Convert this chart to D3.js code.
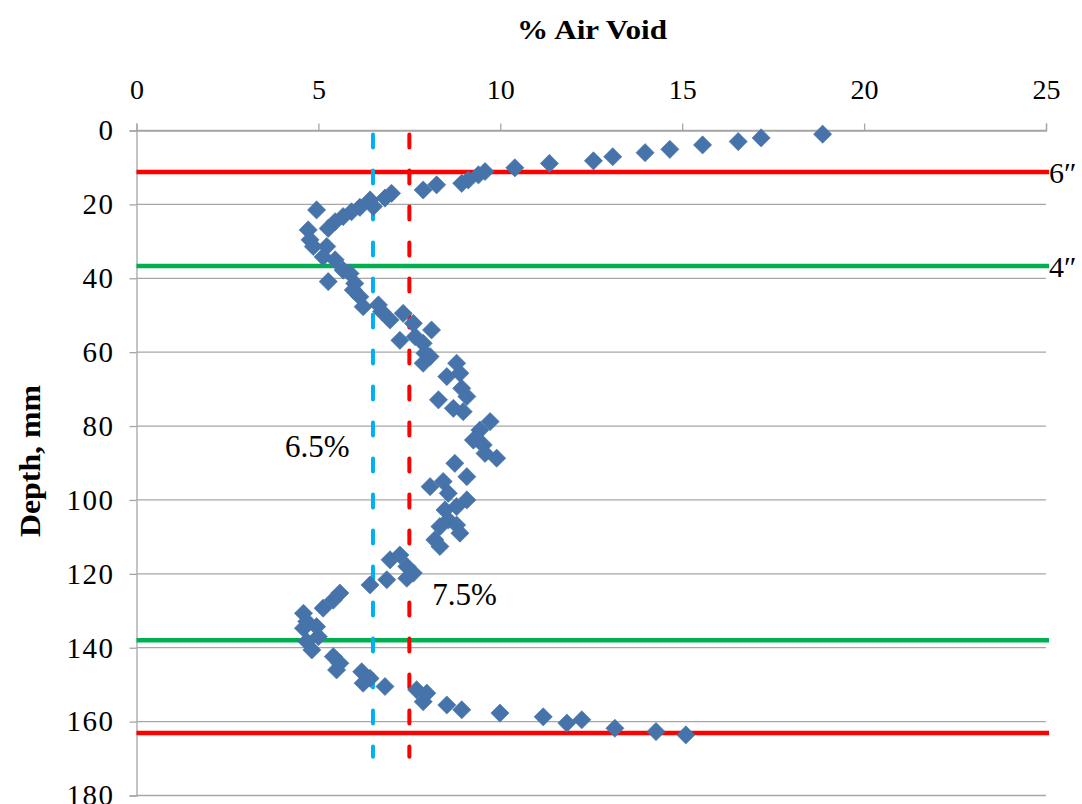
<!DOCTYPE html>
<html>
<head>
<meta charset="utf-8">
<script src="https://cdn.jsdelivr.net/npm/d3@7"></script>
<style>
  body { margin: 0; background: #fff; }
  svg text { font-family: "Liberation Serif", "Times New Roman", serif; }
</style>
</head>
<body>
<div id="chart"></div>
<script>
const depth = [1.0, 2.0, 3.0, 3.9, 5.1, 6.0, 7.1, 8.2, 8.9, 10.1, 11.1, 12.0, 13.4, 14.3, 14.7, 16.1, 17.0, 18.3, 18.8,
  20.6, 20.8, 21.5, 22.0, 23.3, 24.7, 26.5, 26.9, 29.6, 31.4, 31.4, 34.2, 35.0, 37.8, 38.7, 40.9, 41.4, 43.2, 45.0,
  47.2, 47.7, 49.0, 49.5, 51.3, 52.2, 54.0, 55.8, 56.8, 57.6, 60.3, 61.2, 63.0, 63.0, 65.7, 66.6, 69.8, 72.0, 72.9,
  75.2, 76.1, 78.8, 81.1, 83.8, 85.1, 87.4, 88.7, 90.1, 93.7, 95.0, 96.4, 98.2, 100.0, 101.8, 102.7, 105.4, 106.8,
  107.2, 109.0, 110.8, 112.6, 114.9, 116.2, 118.0, 119.8, 121.2, 121.6, 123.0, 125.2, 127.1, 129.3, 130.7, 132.9,
  134.3, 134.7, 137.0, 138.3, 140.6, 142.4, 144.2, 146.0, 146.5, 148.3, 149.6, 150.5, 151.4, 152.3, 154.6, 155.5,
  156.8, 157.7, 158.7, 159.5, 160.4, 161.8, 162.7, 163.6];
const airVoid = [18.86, 17.17, 16.54, 15.56, 14.66, 13.98, 13.09, 12.56, 11.35, 10.4, 9.58, 9.4, 9.12, 8.94, 8.25, 7.88, 7.01, 6.83, 6.42,
  6.51, 6.14, 4.95, 5.91, 5.68, 5.46, 5.27, 4.72, 4.77, 4.86, 5.23, 5.13, 5.46, 5.68, 5.87, 5.27, 6.0, 5.96, 6.14,
  6.65, 6.23, 6.74, 7.33, 6.97, 7.61, 8.11, 7.66, 7.24, 7.88, 7.93, 8.07, 7.88, 8.8, 8.89, 8.53, 8.94, 9.08, 8.3,
  8.71, 8.98, 9.72, 9.44, 9.26, 9.53, 9.58, 9.9, 8.75, 9.08, 8.43, 8.07, 8.57, 9.08, 8.8, 8.48, 8.57, 8.8,
  8.34, 8.89, 8.2, 8.34, 7.24, 6.97, 7.43, 7.61, 7.43, 6.88, 6.42, 5.59, 5.41, 5.13, 4.59, 4.68,
  4.95, 4.59, 5.0, 4.68, 4.82, 5.41, 5.59, 5.5, 6.19, 6.42, 6.23, 6.83, 7.7, 7.98, 7.88, 8.53,
  8.94, 9.99, 11.18, 12.24, 11.83, 13.15, 14.28, 15.1];

const xTicks = [0, 5, 10, 15, 20, 25];
const yTicks = [0, 20, 40, 60, 80, 100, 120, 140, 160, 180];

// layer boundaries (depth, mm)
const layerDepths = [11.2, 36.7, 138.0, 163.1];
const layerColors = ["#ff0000", "#00b050", "#00b050", "#ff0000"];
const layerLabels = ["6\u2033", "4\u2033", "", ""];

// target air void lines
const targets = [6.5, 7.5];
const targetColors = ["#00b0f0", "#ff0000"];
const targetLabels = ["6.5%", "7.5%"];
const targetLabelDepth = [88.5, 128.5];

var svg = d3.select("#chart").append("svg")
    .attr("width", 1082)
    .attr("height", 804);

var x = d3.scaleLinear().domain([0, 25]).range([136.5, 1046]);
var y = d3.scaleLinear().domain([0, 180]).range([130.5, 795.5]);

//gridlines
svg.append("g")
    .selectAll("line")
    .data(yTicks)
    .enter()
    .append("line")
        .attr("x1", x(0))
        .attr("x2", x(25))
        .attr("y1", d => y(d))
        .attr("y2", d => y(d))
        .style("stroke", "#a6a6a6")
        .style("stroke-width", 1.3);

//top axis
var xAxis = svg.append("g")
    .attr("transform", "translate(0," + y(0) + ")")
    .call(d3.axisTop(x).tickValues(xTicks).tickSize(7).tickPadding(25));
xAxis.select(".domain").style("stroke", "#a6a6a6").style("stroke-width", 1.3);
xAxis.selectAll(".tick line").style("stroke", "#a6a6a6").style("stroke-width", 1.3);
xAxis.selectAll("text")
    .style("font-size", "28px")
    .style("font-family", "Liberation Serif")
    .style("fill", "#000");

//left axis
var yAxis = svg.append("g")
    .attr("transform", "translate(" + x(0) + ",0)")
    .call(d3.axisLeft(y).tickValues(yTicks).tickSize(7).tickPadding(15));
yAxis.select(".domain").style("stroke", "#a6a6a6").style("stroke-width", 1.3);
yAxis.selectAll(".tick line").style("stroke", "#a6a6a6").style("stroke-width", 1.3);
yAxis.selectAll("text")
    .style("font-size", "29px")
    .style("font-family", "Liberation Serif")
    .style("letter-spacing", "1.5px")
    .style("fill", "#000");

//axis titles
svg.append("text")
    .attr("x", 592)
    .attr("y", 39)
    .attr("text-anchor", "middle")
    .attr("textLength", 150)
    .attr("lengthAdjust", "spacingAndGlyphs")
    .style("font-weight", "bold")
    .style("font-size", "28px")
    .text("% Air Void");

svg.append("text")
    .attr("transform", "translate(40,461) rotate(-90)")
    .attr("text-anchor", "middle")
    .attr("textLength", 152)
    .attr("lengthAdjust", "spacingAndGlyphs")
    .style("font-weight", "bold")
    .style("font-size", "30px")
    .text("Depth, mm");

//layer boundary lines
svg.append("g")
    .selectAll("line")
    .data(layerDepths)
    .enter()
    .append("line")
        .attr("x1", x(0))
        .attr("x2", x(25) + 3)
        .attr("y1", d => y(d))
        .attr("y2", d => y(d))
        .style("stroke", (d, i) => layerColors[i])
        .style("stroke-width", 4.5);

svg.append("g")
    .selectAll("text")
    .data(layerDepths)
    .enter()
    .append("text")
        .attr("x", x(25) + 3)
        .attr("y", d => y(d) + 11)
        .style("font-size", "30px")
        .text((d, i) => layerLabels[i]);

//target dashed lines
svg.append("g")
    .selectAll("line")
    .data(targets)
    .enter()
    .append("line")
        .attr("x1", d => x(d))
        .attr("x2", d => x(d))
        .attr("y1", y(0) + 4)
        .attr("y2", y(169.5))
        .style("stroke", (d, i) => targetColors[i])
        .style("stroke-width", 4)
        .style("stroke-linecap", "round")
        .style("stroke-dasharray", "13,23");

//target labels
svg.append("text")
    .attr("x", x(targets[0]) - 88)
    .attr("y", y(targetLabelDepth[0]))
    .style("font-size", "31px")
    .text(targetLabels[0]);
svg.append("text")
    .attr("x", x(targets[1]) + 23)
    .attr("y", y(targetLabelDepth[1]))
    .style("font-size", "31px")
    .text(targetLabels[1]);

//data markers
var diamond = d3.symbol().type(d3.symbolSquare).size(165);
svg.append("g")
    .selectAll("path")
    .data(depth)
    .enter()
    .append("path")
        .attr("d", diamond)
        .attr("transform", (d, i) => "translate(" + x(airVoid[i]) + "," + y(d) + ") rotate(45)")
        .style("fill", "#4674aa")
        .style("stroke", "#4674aa")
        .style("stroke-width", 0.6);
</script>
</body>
</html>
